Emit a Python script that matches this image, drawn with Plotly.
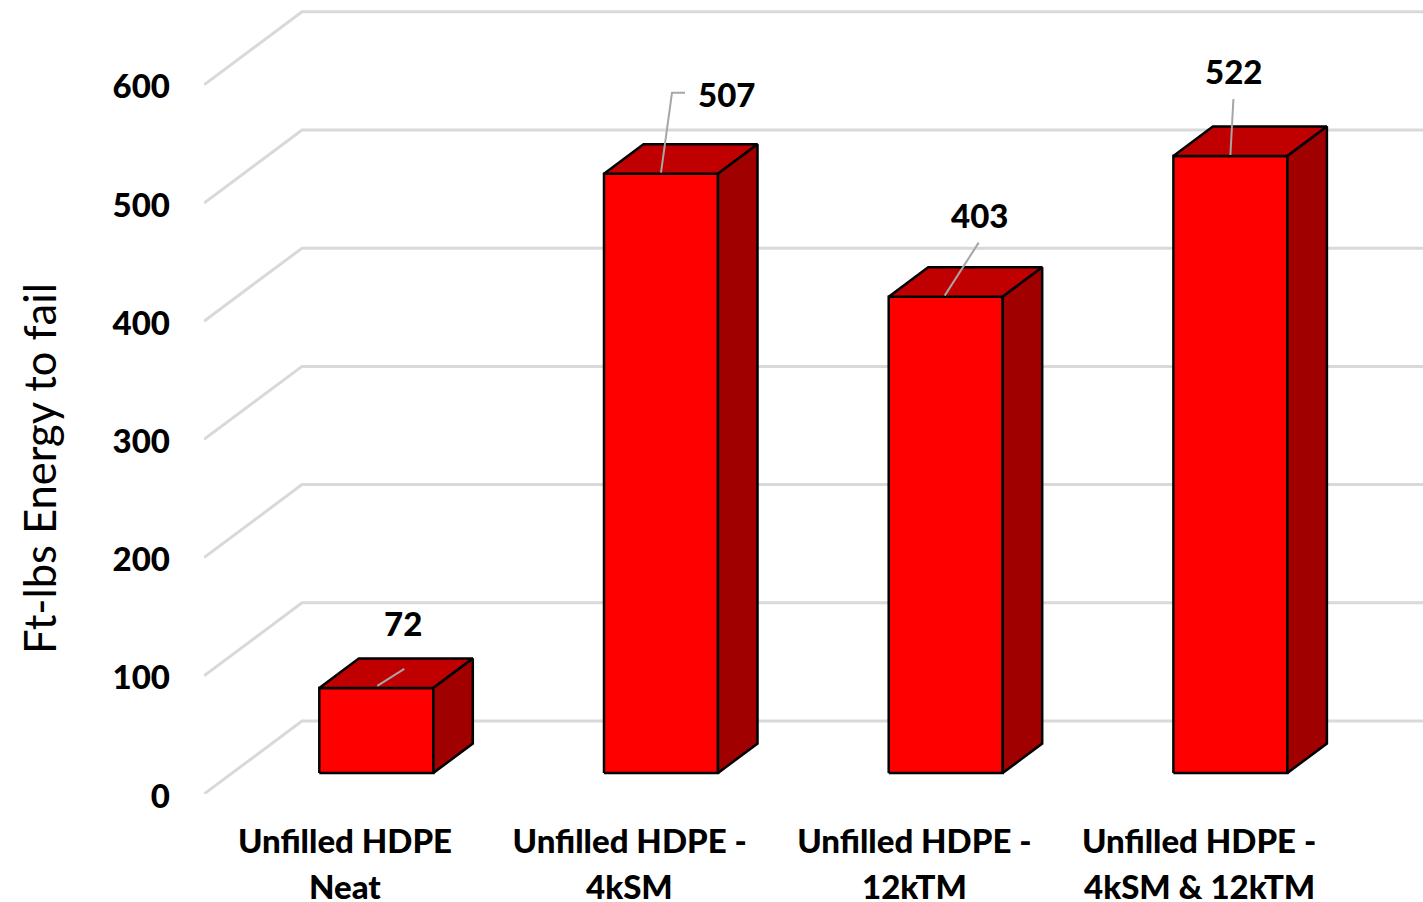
import plotly.graph_objects as go

# ---- data ----
line1 = ["Unfilled HDPE", "Unfilled HDPE -", "Unfilled HDPE -", "Unfilled HDPE -"]
line2 = ["Neat", "4kSM", "12kTM", "4kSM & 12kTM"]
values = [72, 507, 403, 522]
y_ticks = [0, 100, 200, 300, 400, 500, 600]
y_title = "Ft-lbs Energy to fail"

# ---- layout / scale ----
W, H = 1423, 902
L, BOTTOM = 204, 794
X0_PX, SX = 345.0, 284.7   # category 0 pixel, pixels per category
SY = 1.182                 # pixels per value unit
def px_x(p): return p / SX
def px_y(p): return p / SY

x_range = [(L - X0_PX) / SX, (W - X0_PX) / SX]
y_range = [0, BOTTOM / SY]

WALL_DX, WALL_DY = px_x(98), px_y(73)
BAR_SHIFT_X, BAR_BASE = px_x(31.3), px_y(21)
BAR_HALF = px_x(57)
DEPTH_X, DEPTH_Y = px_x(39.5), px_y(29.5)

FONT = "Lato"
TXT = "#000000"
GRID = "#d9d9d9"
FRONT, TOP, SIDE = "#ff0000", "#c00000", "#a00000"
LEADER = "#a6a6a6"
BOLD = dict(family=FONT, size=33, color=TXT, weight=900)

fig = go.Figure()

# wall gridlines with the perspective diagonal
for t in y_ticks:
    fig.add_trace(go.Scatter(
        x=[x_range[0], x_range[0] + WALL_DX, x_range[1]],
        y=[t, t + WALL_DY, t + WALL_DY],
        mode="lines", line=dict(color=GRID, width=3),
        hoverinfo="skip", showlegend=False, cliponaxis=False))

# 3-D columns
for i, v in enumerate(values):
    xl = i + BAR_SHIFT_X - BAR_HALF
    xr = i + BAR_SHIFT_X + BAR_HALF
    yb = BAR_BASE
    yt = BAR_BASE + v
    faces = [
        (FRONT, [xl, xr, xr, xl, xl], [yb, yb, yt, yt, yb]),
        (TOP, [xl, xr, xr + DEPTH_X, xl + DEPTH_X, xl],
              [yt, yt, yt + DEPTH_Y, yt + DEPTH_Y, yt]),
        (SIDE, [xr, xr + DEPTH_X, xr + DEPTH_X, xr, xr],
               [yb, yb + DEPTH_Y, yt + DEPTH_Y, yt, yb]),
    ]
    for colour, fx, fy in faces:
        fig.add_trace(go.Scatter(
            x=fx, y=fy, mode="lines", fill="toself", fillcolor=colour,
            line=dict(color="#000000", width=2.5),
            hoverinfo="skip", showlegend=False))

# data-label placement relative to the top-centre of each column's front face (px)
label_off = [(27, 65), (65, 80), (34, 82), (3, 85)]
leader_off = [
    [(1, 2), (28, 19)],
    [(0, 1), (11, 81), (24, 81)],
    [(-1, 1), (33, 54)],
    [(0, 1), (3, 57)],
]
annotations = []
for i, v in enumerate(values):
    cx = i + BAR_SHIFT_X
    cy = BAR_BASE + v
    lx, ly = label_off[i]
    annotations.append(dict(
        x=cx + px_x(lx), y=cy + px_y(ly), xref="x", yref="y", text=str(v),
        showarrow=False, xanchor="center", yanchor="middle", font=BOLD))
    fig.add_trace(go.Scatter(
        x=[cx + px_x(a) for a, _ in leader_off[i]],
        y=[cy + px_y(b) for _, b in leader_off[i]],
        mode="lines", line=dict(color=LEADER, width=2),
        hoverinfo="skip", showlegend=False))

# second row of category labels
for i, s in enumerate(line2):
    annotations.append(dict(
        x=i, y=0, xref="x", yref="y", yshift=-92, text=s, showarrow=False,
        xanchor="center", yanchor="middle", font=BOLD))

# value-axis title, centred on the reference's position
annotations.append(dict(
    xref="paper", yref="paper", x=(39 - L) / (W - L), y=(BOTTOM - 469) / BOTTOM,
    text=y_title, textangle=-90, showarrow=False,
    xanchor="center", yanchor="middle",
    font=dict(family=FONT, size=43.5, color=TXT)))

fig.update_layout(
    width=W, height=H, autosize=False,
    margin=dict(l=L, r=0, t=0, b=H - BOTTOM, pad=0),
    paper_bgcolor="#ffffff", plot_bgcolor="#ffffff",
    showlegend=False, annotations=annotations,
    xaxis=dict(range=x_range, tickmode="array", tickvals=list(range(len(line1))),
               ticktext=line1, showgrid=False, zeroline=False, showline=False,
               ticks="", ticklabelstandoff=25, fixedrange=True, tickfont=BOLD),
    yaxis=dict(range=y_range, tickmode="array", tickvals=y_ticks,
               showgrid=False, zeroline=False, showline=False, ticks="",
               ticklabelstandoff=33, ticklabelshift=2, fixedrange=True,
               tickfont=BOLD),
)

fig.write_html("out.html", config={"displayModeBar": False},
               post_script="document.body.style.margin='0';")
